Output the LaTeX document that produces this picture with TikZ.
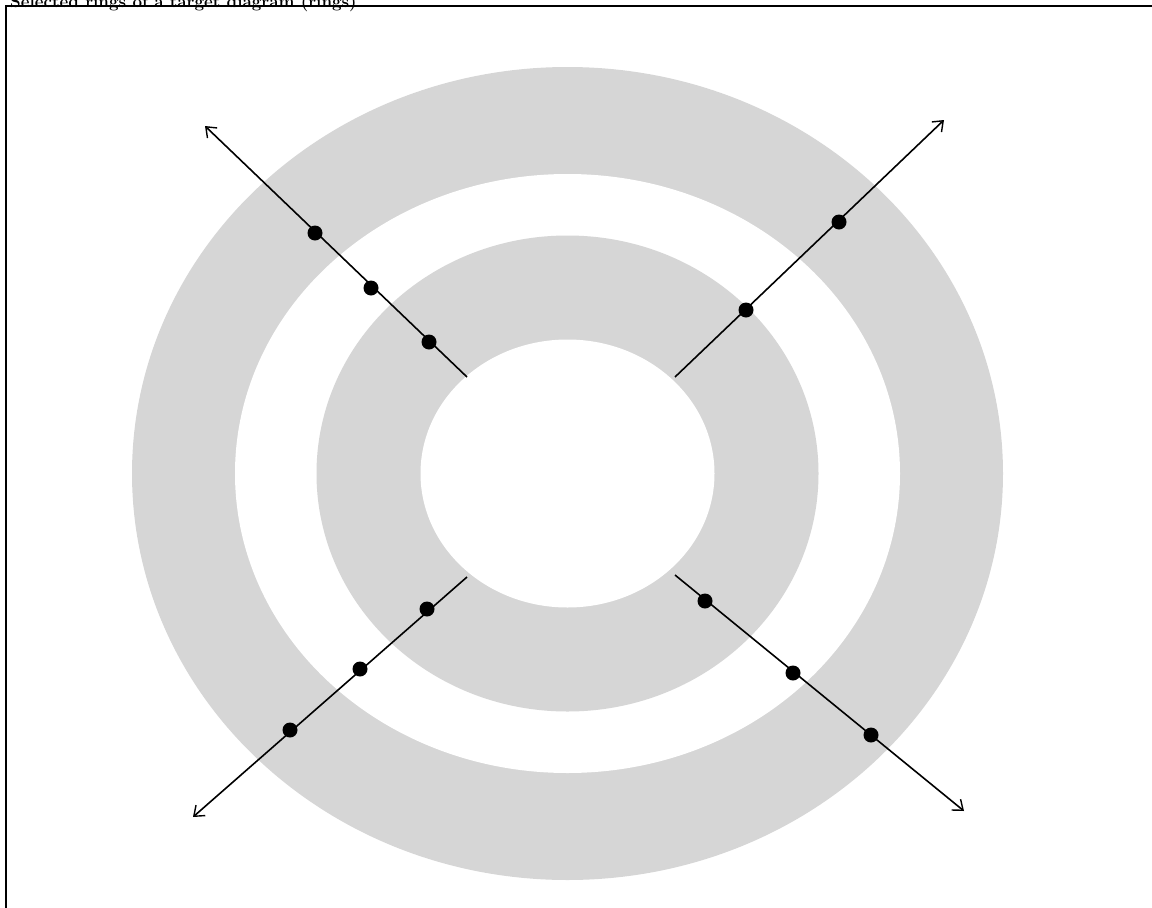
\documentclass[tikz,border=0pt]{standalone}
\usetikzlibrary{arrows.meta}
\definecolor{ringgray}{RGB}{214,214,214}
\begin{document}
\begin{tikzpicture}[x=1pt,y=-1pt,
  ring/.style={fill=ringgray,draw=none},
  hole/.style={fill=white,draw=none},
  ray/.style={line width=1.6pt,-{Straight Barb[length=9pt,width=14pt,line width=1.4pt]}},
  dot/.style={circle,fill=black,inner sep=0pt,minimum size=15pt},
  frameline/.style={line width=1.2pt}]
\useasboundingbox (0,0) rectangle (1152,908);
% clipped title
\node[anchor=base west,inner sep=0pt,font=\fontsize{17}{19}\selectfont\bfseries] (title) at (10,7) {Selected rings of a target diagram (rings)};
% frame
\coordinate (fa) at (6,908);
\coordinate (fb) at (6,6);
\coordinate (fc) at (1152,6);
\draw[frameline] (fa) -- (fb) -- (fc);
% rings
\coordinate (c) at (567.5,473.5);
\fill[ring] (c) ellipse [x radius=435.5, y radius=406.5];
\fill[hole] (c) ellipse [x radius=332.5, y radius=299.5];
\fill[ring] (c) ellipse [x radius=251, y radius=238];
\fill[hole] (c) ellipse [x radius=147, y radius=134];
% ray endpoints
\coordinate (s1) at (467,377); \coordinate (e1) at (205,126);
\coordinate (s2) at (675,377); \coordinate (e2) at (944,120);
\coordinate (s3) at (467,577); \coordinate (e3) at (193,817);
\coordinate (s4) at (675,575); \coordinate (e4) at (964,811);
\draw[ray] (s1) -- (e1);
\draw[ray] (s2) -- (e2);
\draw[ray] (s3) -- (e3);
\draw[ray] (s4) -- (e4);
% dots
\node[dot] (a1) at (315,233) {};
\node[dot] (a2) at (371,288) {};
\node[dot] (a3) at (429,342) {};
\node[dot] (b1) at (839,222) {};
\node[dot] (b2) at (746,310) {};
\node[dot] (c1) at (427,609) {};
\node[dot] (c2) at (360,669) {};
\node[dot] (c3) at (290,730) {};
\node[dot] (d1) at (705,601) {};
\node[dot] (d2) at (793,673) {};
\node[dot] (d3) at (871,735) {};
\end{tikzpicture}
\end{document}
